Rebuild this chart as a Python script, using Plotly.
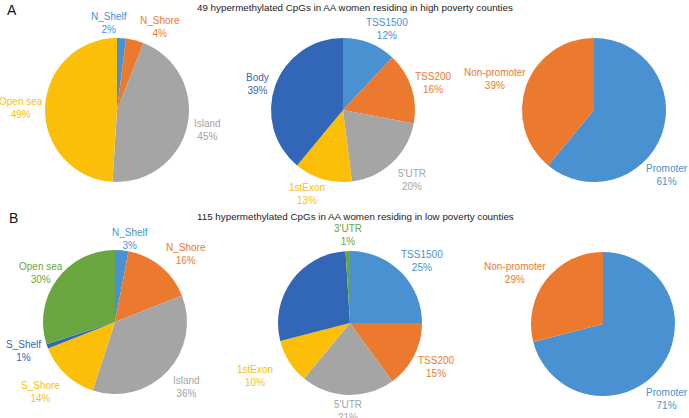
import math

import plotly.graph_objects as go

W, H = 689, 418

TITLE_A = "49 hypermethylated CpGs in AA women residing in high poverty counties"
TITLE_B = "115 hypermethylated CpGs in AA women residing in low poverty counties"

# CpG island context
a_island_labels = ["N_Shelf", "N_Shore", "Island", "Open sea"]
a_island_values = [2, 4, 45, 49]
b_island_labels = ["N_Shelf", "N_Shore", "Island", "S_Shore", "S_Shelf", "Open sea"]
b_island_values = [3, 16, 36, 14, 1, 30]

# gene region
a_gene_labels = ["TSS1500", "TSS200", "5'UTR", "1stExon", "Body"]
a_gene_values = [12, 16, 20, 13, 39]
b_gene_labels = ["TSS1500", "TSS200", "5'UTR", "1stExon", "Body", "3'UTR"]
b_gene_values = [25, 15, 21, 10, 28, 1]

# promoter vs non-promoter
a_prom_labels = ["Promoter", "Non-promoter"]
a_prom_values = [61, 39]
b_prom_labels = ["Promoter", "Non-promoter"]
b_prom_values = [71, 29]

# office-like palette, applied by slice order
PALETTE = ["#4a91d1", "#ec7a2e", "#a5a5a5", "#fcbf07", "#3267b7", "#6aa640"]
FONT = "Liberation Sans, Arial, sans-serif"

# (pie data, centre in px, labels to hide, label nudges in px (dx, dy))
panels = [
    (a_island_labels, a_island_values, (117, 110), [],
     {"N_Shelf": (-13, 4), "N_Shore": (2, 6), "Island": (0, 3), "Open sea": (5, 0)}),
    (a_gene_labels, a_gene_values, (343, 110), [],
     {"TSS1500": (-7, 5), "TSS200": (-3, -3), "1stExon": (5, -4)}),
    (a_prom_labels, a_prom_values, (594, 110), [],
     {"Promoter": (1, 39), "Non-promoter": (6, -5)}),
    (b_island_labels, b_island_values, (115, 322), [],
     {"N_Shelf": (8, 8), "N_Shore": (0, 5), "Island": (0, 12),
      "S_Shelf": (0, 3), "Open sea": (12, -4)}),
    (b_gene_labels, b_gene_values, (350, 323), ["Body"],
     {"3'UTR": (0, 3), "TSS1500": (-5, 6), "TSS200": (-3, 9),
      "5'UTR": (0, -3), "1stExon": (-10, 12)}),
    (b_prom_labels, b_prom_values, (603, 324), [],
     {"Promoter": (3, 28), "Non-promoter": (6, -4)}),
]
# Promoter labels are pulled inside the window, centred under the pie
CENTRED = ["Promoter"]
R = 72
GAP = 5

fig = go.Figure()
annotations = []

for labels, values, (cx, cy), hidden, nudges in panels:
    fig.add_trace(
        go.Pie(
            labels=labels,
            values=values,
            sort=False,
            direction="clockwise",
            rotation=0,
            textinfo="none",
            hoverinfo="label+percent",
            marker=dict(colors=PALETTE[: len(labels)], line=dict(width=0)),
            domain=dict(
                x=[(cx - R) / W, (cx + R) / W],
                y=[1 - (cy + R) / H, 1 - (cy - R) / H],
            ),
            showlegend=False,
        )
    )

    # outside-end data labels at each slice's mid angle
    total = sum(values)
    cum = 0
    for i, (lab, val) in enumerate(zip(labels, values)):
        mid = 2 * math.pi * (cum + val / 2) / total
        cum += val
        if lab in hidden:
            continue
        dx, dy = math.sin(mid), -math.cos(mid)
        px_ = cx + (R + GAP) * dx
        py_ = cy + (R + GAP) * dy
        xanchor = "left" if dx > 0.15 else ("right" if dx < -0.15 else "center")
        yanchor = "bottom" if dy < -0.7 else ("top" if dy > 0.7 else "middle")
        if lab in CENTRED:
            xanchor, yanchor = "center", "middle"
        ox, oy = nudges.get(lab, (0, 0))
        px_ += ox
        py_ += oy
        annotations.append(
            dict(
                x=px_ / W,
                y=1 - py_ / H,
                xref="paper",
                yref="paper",
                xanchor=xanchor,
                yanchor=yanchor,
                text=f"{lab}<br>{round(100 * val / total)}%",
                showarrow=False,
                align="center",
                font=dict(family=FONT, size=10, color=PALETTE[i]),
            )
        )

# panel letters and titles
for letter, title, lx, ly, ty in [("A", TITLE_A, 12, 10, 8), ("B", TITLE_B, 13, 218, 216)]:
    annotations.append(
        dict(
            x=lx / W, y=1 - ly / H, xref="paper", yref="paper",
            xanchor="center", yanchor="middle", text=letter, showarrow=False,
            font=dict(family=FONT, size=14, color="#111111"),
        )
    )
    annotations.append(
        dict(
            x=355 / W, y=1 - ty / H, xref="paper", yref="paper",
            xanchor="center", yanchor="middle", text=title, showarrow=False,
            font=dict(family=FONT, size=9.8, color="#222222"),
        )
    )

fig.update_layout(
    width=W,
    height=H,
    margin=dict(l=0, r=0, t=0, b=0),
    paper_bgcolor="white",
    plot_bgcolor="white",
    annotations=annotations,
)

# drop the browser's default body margin so the figure sits at the window origin
fig.write_html(
    "out.html",
    config={"displayModeBar": False},
    post_script="document.body.style.margin = '0';",
)
